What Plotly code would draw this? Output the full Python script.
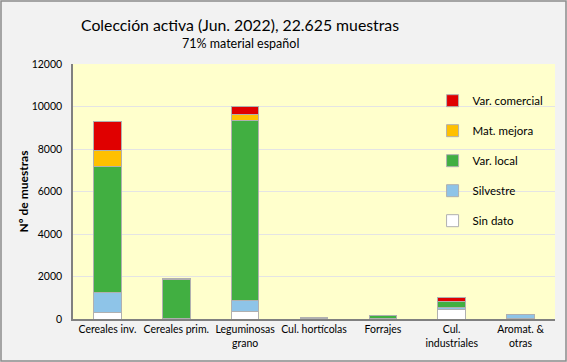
import plotly.graph_objects as go

categories = ["Cereales inv.", "Cereales prim.", "Leguminosas<br>grano", "Cul. hortícolas",
              "Forrajes", "Cul.<br>industriales", "Aromat. &<br>otras"]
sin_dato = [300, 10, 360, 5, 5, 450, 10]
silvestre = [970, 10, 520, 60, 15, 110, 200]
var_local = [5920, 1830, 8480, 15, 140, 265, 10]
mat_mejora = [720, 5, 270, 0, 0, 5, 0]
var_comercial = [1370, 60, 370, 0, 0, 170, 0]
y_ticks = [0, 2000, 4000, 6000, 8000, 10000, 12000]

series = [
    ("Sin dato", sin_dato, "#FFFFFF"),
    ("Silvestre", silvestre, "#8EC4E8"),
    ("Var. local", var_local, "#41AF41"),
    ("Mat. mejora", mat_mejora, "#FFC000"),
    ("Var. comercial", var_comercial, "#E00000"),
]

font = "Lato, 'Open Sans', sans-serif"
fig = go.Figure()
for i, (name, vals, col) in enumerate(series):
    fig.add_trace(go.Bar(
        x=categories, y=vals, name=name, legendgroup=str(i), legendrank=10 - i,
        marker=dict(color=col, line=dict(color="#B0B0B0", width=1)),
        width=0.4,
    ))

L, R, T, B = 73, 12, 64, 43
W, H = 567, 362
pw, ph = W - L - R, H - T - B

fig.update_layout(
    width=W, height=H,
    margin=dict(l=L, r=R, t=T, b=B),
    barmode="stack",
    paper_bgcolor="#F2F2F2",
    plot_bgcolor="#FFFFCC",
    font=dict(family=font, size=10.5, color="#000000"),
    showlegend=True,
    legend=dict(
        x=0.746, y=0.913, xanchor="left", yanchor="top",
        traceorder="grouped", tracegroupgap=11,
        bgcolor="rgba(0,0,0,0)", font=dict(size=11.5),
        itemwidth=30,
    ),
    xaxis=dict(
        showline=True, linecolor="#808080", linewidth=1.5,
        ticks="", tickfont=dict(size=10.5), range=[-0.5, 6.5],
    ),
    yaxis=dict(
        range=[0, 12000], tickvals=y_ticks, tickformat="d",
        showgrid=True, gridcolor="#E4E4E4", gridwidth=1,
        showline=True, linecolor="#808080", linewidth=1.5,
        ticks="", tickfont=dict(size=10.5), ticklabelstandoff=7,
        title=dict(text="<b>Nº de muestras</b>", font=dict(size=12), standoff=0),
        zeroline=False,
    ),
    annotations=[
        dict(text="Colección activa (Jun. 2022), 22.625 muestras", x=(240 - L) / pw, y=1 + (T - 24) / ph,
             xref="paper", yref="paper", showarrow=False, font=dict(size=15.8, family=font),
             xanchor="center", yanchor="middle"),
        dict(text="71% material español", x=(240 - L) / pw, y=1 + (T - 43) / ph,
             xref="paper", yref="paper", showarrow=False, font=dict(size=12.5, family=font),
             xanchor="center", yanchor="middle"),
    ],
    shapes=[
        dict(type="rect", xref="paper", yref="paper",
             x0=-(L - 1) / pw, x1=1 + (R - 1) / pw, y0=-(B - 1) / ph, y1=1 + (T - 1) / ph,
             line=dict(color="#8C8C8C", width=1.5), fillcolor="rgba(0,0,0,0)", layer="above"),
    ],
)

fig.write_html("out.html", config={"displayModeBar": False},
               post_script="document.body.style.margin='0';document.body.style.padding='0';")
